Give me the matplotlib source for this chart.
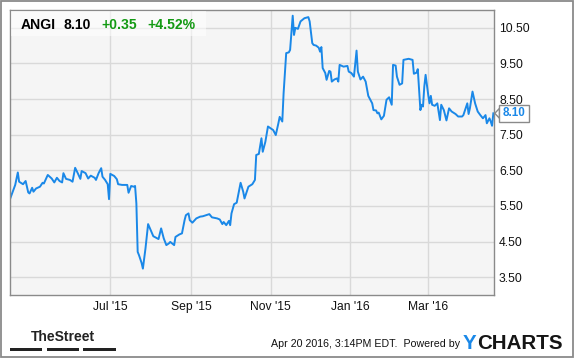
import datetime as dt

import matplotlib

matplotlib.use("Agg")

import matplotlib.pyplot as plt
import matplotlib.dates as mdates
from matplotlib import font_manager
from matplotlib.patches import Polygon, Rectangle


# ---- data --------------------------------------------------------------
symbol = "ANGI"

dates = [
    "2015-04-15", "2015-04-19", "2015-04-21", "2015-04-22", "2015-04-25",
    "2015-04-27", "2015-04-29", "2015-04-30", "2015-05-02", "2015-05-03",
    "2015-05-05", "2015-05-08", "2015-05-10", "2015-05-11", "2015-05-14",
    "2015-05-17", "2015-05-19", "2015-05-21", "2015-05-23", "2015-05-25",
    "2015-05-26", "2015-05-28", "2015-05-31", "2015-06-02", "2015-06-04",
    "2015-06-06", "2015-06-08", "2015-06-09", "2015-06-12", "2015-06-14",
    "2015-06-16", "2015-06-19", "2015-06-20", "2015-06-22", "2015-06-24",
    "2015-06-25", "2015-06-27", "2015-06-29", "2015-06-30", "2015-07-01",
    "2015-07-04", "2015-07-06", "2015-07-07", "2015-07-10", "2015-07-12",
    "2015-07-14", "2015-07-15", "2015-07-17", "2015-07-19", "2015-07-20",
    "2015-07-21", "2015-07-22", "2015-07-23", "2015-07-25", "2015-07-26",
    "2015-07-28", "2015-07-30", "2015-08-01", "2015-08-03", "2015-08-04",
    "2015-08-07", "2015-08-09", "2015-08-11", "2015-08-13", "2015-08-15",
    "2015-08-16", "2015-08-19", "2015-08-20", "2015-08-23", "2015-08-25",
    "2015-08-27", "2015-08-28", "2015-08-30", "2015-08-31", "2015-09-02",
    "2015-09-05", "2015-09-08", "2015-09-10", "2015-09-15", "2015-09-17",
    "2015-09-21", "2015-09-23", "2015-09-25", "2015-09-26", "2015-09-28",
    "2015-09-30", "2015-10-01", "2015-10-02", "2015-10-04", "2015-10-06",
    "2015-10-09", "2015-10-11", "2015-10-12", "2015-10-15", "2015-10-18",
    "2015-10-20", "2015-10-21", "2015-10-23", "2015-10-25", "2015-10-26",
    "2015-10-28", "2015-10-30", "2015-11-01", "2015-11-03", "2015-11-05",
    "2015-11-07", "2015-11-08", "2015-11-10", "2015-11-11", "2015-11-13",
    "2015-11-15", "2015-11-16", "2015-11-18", "2015-11-19", "2015-11-20",
    "2015-11-22", "2015-11-24", "2015-11-27", "2015-11-30", "2015-12-01",
    "2015-12-03", "2015-12-04", "2015-12-06", "2015-12-08", "2015-12-09",
    "2015-12-10", "2015-12-11", "2015-12-13", "2015-12-14", "2015-12-16",
    "2015-12-17", "2015-12-18", "2015-12-20", "2015-12-22", "2015-12-23",
    "2015-12-24", "2015-12-27", "2015-12-30", "2015-12-31", "2016-01-02",
    "2016-01-04", "2016-01-06", "2016-01-07", "2016-01-09", "2016-01-11",
    "2016-01-13", "2016-01-15", "2016-01-18", "2016-01-19", "2016-01-21",
    "2016-01-22", "2016-01-23", "2016-01-25", "2016-01-27", "2016-01-29",
    "2016-01-31", "2016-02-02", "2016-02-03", "2016-02-05", "2016-02-06",
    "2016-02-08", "2016-02-10", "2016-02-11", "2016-02-15", "2016-02-18",
    "2016-02-19", "2016-02-21", "2016-02-22", "2016-02-24", "2016-02-25",
    "2016-02-26", "2016-02-27", "2016-02-28", "2016-03-01", "2016-03-02",
    "2016-03-03", "2016-03-04", "2016-03-06", "2016-03-08", "2016-03-10",
    "2016-03-11", "2016-03-13", "2016-03-15", "2016-03-17", "2016-03-19",
    "2016-03-22", "2016-03-24", "2016-03-27", "2016-03-28", "2016-03-31",
    "2016-04-01", "2016-04-02", "2016-04-04", "2016-04-06", "2016-04-08",
    "2016-04-10", "2016-04-12", "2016-04-14", "2016-04-15", "2016-04-17",
    "2016-04-18", "2016-04-19", "2016-04-20",
]

prices = [
    5.69, 6.09, 6.44, 6.18, 6.11, 6.20, 5.88, 5.85, 6.01, 5.90,
    5.99, 6.04, 6.15, 6.13, 6.37, 6.27, 6.16, 6.29, 6.20, 6.16,
    6.42, 6.26, 6.23, 6.18, 6.57, 6.42, 6.26, 6.48, 6.42, 6.27,
    6.35, 6.29, 6.23, 6.42, 6.56, 6.32, 6.23, 6.11, 5.69, 6.40,
    6.34, 6.25, 6.11, 6.09, 6.09, 6.09, 5.87, 6.06, 6.04, 6.06,
    5.57, 4.21, 4.12, 3.90, 3.74, 4.31, 4.99, 4.82, 4.65, 4.63,
    4.57, 4.87, 4.59, 4.40, 4.45, 4.49, 4.40, 4.63, 4.70, 4.73,
    5.10, 5.24, 5.29, 5.10, 5.03, 5.15, 5.20, 5.21, 5.27, 5.18,
    5.15, 5.12, 4.99, 5.05, 4.96, 5.08, 4.96, 5.29, 5.55, 5.59,
    6.15, 5.90, 5.71, 6.04, 6.11, 6.23, 6.93, 6.96, 7.40, 7.02,
    7.30, 7.73, 7.68, 7.63, 7.49, 7.82, 8.00, 7.87, 8.66, 9.79,
    9.81, 9.88, 10.84, 10.30, 10.50, 10.47, 10.68, 10.77, 10.80, 10.68,
    10.07, 10.02, 10.00, 9.94, 9.83, 9.96, 9.37, 9.23, 9.04, 9.29,
    9.27, 8.99, 9.05, 9.08, 8.99, 9.46, 9.41, 9.43, 9.27, 9.23,
    9.13, 9.86, 9.27, 9.05, 9.13, 8.99, 8.59, 8.38, 8.19, 8.18,
    8.10, 8.12, 7.93, 8.03, 8.48, 8.55, 8.34, 9.46, 9.44, 9.13,
    8.90, 8.94, 9.60, 9.63, 9.60, 9.21, 9.24, 9.34, 8.19, 8.34,
    8.29, 8.85, 9.18, 8.62, 8.38, 8.59, 8.34, 8.31, 8.38, 7.91,
    8.34, 8.19, 7.90, 8.24, 8.15, 8.08, 8.01, 8.01, 8.05, 8.38,
    8.08, 8.24, 8.71, 8.38, 8.15, 8.05, 7.96, 8.05, 7.82, 7.96,
    7.87, 7.75, 8.10,
]

x_ticks = ["2015-07-01", "2015-09-01", "2015-11-01", "2016-01-01", "2016-03-01"]
y_ticks = [3.5, 4.5, 5.5, 6.5, 7.5, 8.5, 9.5, 10.5]
stamp = "Apr 20 2016, 3:14PM EDT.  Powered by"

# ---- styling -----------------------------------------------------------
W, H = 575, 358
LINE_BLUE = "#1a88e8"
GREEN = "#139a13"
BORDER = "#8a8a8a"

installed = {f.name for f in font_manager.fontManager.ttflist}
BASE = "Liberation Sans" if "Liberation Sans" in installed else "DejaVu Sans"
NARROW = "Liberation Sans Narrow" if "Liberation Sans Narrow" in installed else BASE
plt.rcParams["font.family"] = BASE


def fx(x):
    return x / W


def fy(y):
    return 1 - y / H


xs = [dt.date.fromisoformat(d) for d in dates]

fig = plt.figure(figsize=(W / 100, H / 100), dpi=100)
fig.patch.set_facecolor("white")
fig.patches.append(
    Rectangle((fx(1), fy(357)), fx(572), 356 / H, transform=fig.transFigure,
              fill=False, edgecolor=BORDER, linewidth=1.3, zorder=0)
)

ax = fig.add_axes([fx(10), fy(295), (494 - 10) / W, (295 - 10) / H])
ax.set_facecolor("#f5f5f5")
ax.plot(xs, prices, color=LINE_BLUE, linewidth=1.4, solid_joinstyle="round")

ax.set_xlim(dt.datetime(2015, 4, 15), dt.datetime(2016, 4, 20, 12))
ax.set_ylim(3.0, 11.0)
ax.set_xticks([dt.date.fromisoformat(d) for d in x_ticks])
ax.xaxis.set_major_formatter(mdates.DateFormatter("%b '%y"))
ax.set_yticks(y_ticks)
ax.set_yticklabels([f"{v:.2f}" for v in y_ticks])
ax.yaxis.tick_right()
ax.tick_params(axis="y", length=0, pad=3.6, labelsize=8.7, labelcolor="#111111")
ax.tick_params(axis="x", length=0, pad=4, labelsize=8.7, labelcolor="#111111")
ax.grid(color="#d9d9d9", linewidth=1.0)
ax.set_axisbelow(True)
for s in ax.spines.values():
    s.set_color(BORDER)
    s.set_linewidth(1.0)

# header quote box
last = prices[-1]
change = last - prices[-2]
change_pct = change / prices[-2] * 100
fig.patches.append(
    Rectangle((fx(10.5), fy(36)), 195 / W, 25.5 / H, transform=fig.transFigure,
              facecolor="white", alpha=0.55, edgecolor="none", zorder=2)
)
header = [
    (21, symbol, "black"),
    (64, f"{last:.2f}", "black"),
    (101, f"{change:+.2f}", GREEN),
    (147, f"{change_pct:+.2f}%", GREEN),
]
for x, txt, col in header:
    fig.text(fx(x), fy(29), txt, color=col, fontsize=10.1, fontweight="bold",
             ha="left", va="baseline", zorder=3)

# last price tag on the right axis
yc = fig.transFigure.inverted().transform(ax.transData.transform((0, last)))[1]
tag_h = 17 / H
fig.patches.append(
    Polygon([(fx(499.5), yc + 5 / H), (fx(494.8), yc), (fx(499.5), yc - 5 / H)],
            closed=True, transform=fig.transFigure, facecolor="white",
            edgecolor=BORDER, linewidth=1.0, zorder=3)
)
fig.patches.append(
    Rectangle((fx(499.3), yc - tag_h / 2), 30 / W, tag_h, transform=fig.transFigure,
              facecolor="white", edgecolor=BORDER, linewidth=1.0, zorder=3)
)
fig.text(fx(514.3), yc, f"{last:.2f}", color=LINE_BLUE, fontsize=8.4,
         fontweight="bold", ha="center", va="center", zorder=4)

# footer
fig.text(fx(63), fy(341), "TheStreet", family=NARROW, fontsize=10.0,
         fontweight="bold", color="#222222", ha="center", va="baseline")
for x0, x1 in [(10, 42), (47, 79), (83, 116)]:
    fig.patches.append(
        Rectangle((fx(x0), fy(350.5)), (x1 - x0) / W, 3 / H,
                  transform=fig.transFigure, facecolor="#222222",
                  edgecolor="none")
    )
fig.text(fx(460), fy(347), stamp, fontsize=7.7, color="#111111",
         ha="right", va="baseline")
fig.text(fx(463), fy(349), "Y", fontsize=14.8, fontweight="bold",
         color=LINE_BLUE, ha="left", va="baseline")
fig.text(fx(477.5), fy(349), "CHARTS", fontsize=14.8, fontweight="bold",
         color="#151515", ha="left", va="baseline")

fig.savefig("out.png", dpi=100)
plt.close(fig)
